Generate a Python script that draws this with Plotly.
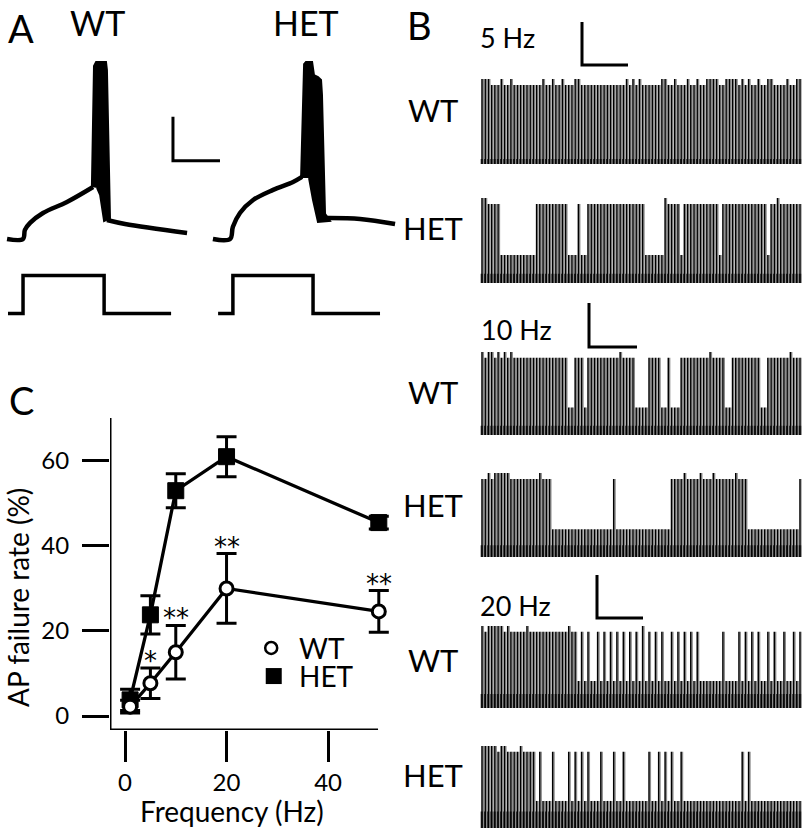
import plotly.graph_objects as go

W, H = 804, 832
FONT = "Lato, 'Open Sans', sans-serif"

# ---------------- Panel C data: AP failure rate (%) ----------------
freq_wt = [1, 5, 10, 20, 50]
fail_wt = [2.2, 7.7, 15.0, 30.0, 24.6]
err_wt = [1.5, 3.6, 6.3, 8.2, 4.9]
freq_het = [1, 5, 10, 20, 50]
fail_het = [3.8, 23.8, 53.0, 61.0, 45.5]
err_het = [2.5, 4.5, 4.0, 4.7, 1.5]
sig_freq = [5, 10, 20, 50]
sig_label = ["*", "**", "**", "**"]
c_xticks = [0, 20, 40]
c_yticks = [0, 20, 40, 60]

# ---------------- Panel A data: overlaid APs (ms, mV) ----------------
wt_pre_t = [0.30, 0.98, 1.06, 1.28, 1.83, 2.85, 3.96]
wt_pre_v = [-70, -70, -65.9, -62.7, -58.2, -53.2, -46.4]
wt_spike_t = [3.91, 4.00, 4.09, 4.51, 4.55, 4.68, 4.43, 4.26, 4.13]
wt_spike_v = [-46.4, 8.6, 10.5, 10.5, 6.8, -60.5, -61.8, -50.0, -46.8]
wt_post_t = [4.55, 5.32, 7.96]
wt_post_v = [-61.4, -63.2, -67.3]
het_pre_t = [9.06, 9.79, 9.91, 10.21, 10.77, 11.62, 12.47, 12.85]
het_pre_v = [-70, -70, -64.5, -58.2, -52.3, -47.7, -44.1, -41.8]
het_spike_t = [12.81, 12.94, 13.02, 13.28, 13.36, 13.53, 13.66, 13.70, 13.83, 14.04, 13.53, 13.32, 13.15]
het_spike_v = [-42.3, 9.5, 10.5, 10.5, 4.5, 3.6, 2.3, -4.5, -58.6, -61.8, -62.3, -52.3, -42.3]
het_post_t = [13.87, 15.32, 16.81]
het_post_v = [-60.5, -60.9, -63.2]
# current step command (0 = off, 1 = on)
wt_step_t = [0.34, 0.98, 0.98, 4.43, 4.43, 7.28]
het_step_t = [9.28, 9.91, 9.91, 13.32, 13.32, 16.17]
step_i = [0, 0, 1, 1, 0, 0]
scale_a_ms = 2
scale_a_mv = 20

# ---------------- Panel B data: response to each stimulus ----------------
# '2' = tall spike, '1' = spike, '0' = failure
wt_5hz = ("2221112112" "1111111112" "1121121112" "2111111111" "1111121212"
          "1111112211" "2111211211" "2222112222" "1212112112" "2111121122")
het_5hz = ("2211110000" "0000000111" "1111111000" "1001111111" "1111111111"
           "1000000211" "1101111111" "1111011111" "1111111110" "1121111111")
wt_10hz = ("2122121212" "1111111111" "1111111001" "1101111111" "1112111100"
           "0011110010" "0011111111" "1211110011" "1111111001" "1111112111")
het_10hz = ("1121222221" "1111111121" "1100000000" "0000000000" "0100000000"
            "0000000001" "1112111121" "1121111112" "1110000000" "0000000001")
wt_20hz = ("2122222121" "1111211111" "1111111211" "0101001010" "1010101010"
           "2010101001" "0101010100" "0000010000" "1010101001" "0100100101")
het_20hz = ("2222212211" "1121111010" "0010000101" "0101000100" "0100100000"
            "0010010101" "0010000000" "0000000000" "0101000000" "0000000000")
level = {"2": 1.0, "1": 0.93, "0": 0.33}

# ---------------- layout helpers (pixel geometry) ----------------
def dx(x0, x1):
    return [x0 / W, x1 / W]

def dy(y0, y1):
    return [1 - y1 / H, 1 - y0 / H]

fig = go.Figure()
hidden = dict(visible=False, showgrid=False, zeroline=False, fixedrange=True)
layout_axes = {}
shapes = []

# ---------- Panel C ----------
C_X0, C_X1, C_Y0, C_Y1 = 110, 392, 418, 730
C_XMIN, C_XMAX, C_XLINE_END = -2.96, 52.6, 49.85
C_YMIN, C_YMAX = -3.29, 70.1
axis_common = dict(showline=False, ticks="outside", tickwidth=3, tickcolor="black",
                   showgrid=False, zeroline=False,
                   tickfont=dict(family=FONT, size=24, color="black"))
layout_axes["xaxis"] = dict(axis_common, domain=dx(C_X0, C_X1), range=[C_XMIN, C_XMAX],
                            tickvals=c_xticks, ticklen=31, anchor="y", ticklabelstandoff=0)
layout_axes["yaxis"] = dict(axis_common, domain=dy(C_Y0, C_Y1), range=[C_YMIN, C_YMAX],
                            tickvals=c_yticks, ticklen=27, anchor="x", ticklabelstandoff=8)
shapes.append(dict(type="line", xref="x", yref="y", x0=C_XMIN, x1=C_XLINE_END,
                   y0=C_YMIN, y1=C_YMIN, line=dict(color="black", width=3)))
shapes.append(dict(type="line", xref="x", yref="y", x0=C_XMIN, x1=C_XMIN,
                   y0=C_YMIN, y1=C_YMAX, line=dict(color="black", width=3)))

fig.add_trace(go.Scatter(x=freq_het, y=fail_het, mode="lines+markers",
                         line=dict(color="black", width=3.3),
                         marker=dict(symbol="square", size=16, color="black",
                                     line=dict(color="black", width=1)),
                         error_y=dict(type="data", array=err_het, color="black",
                                      thickness=3, width=10),
                         cliponaxis=False, showlegend=False))
fig.add_trace(go.Scatter(x=freq_wt, y=fail_wt, mode="lines+markers",
                         line=dict(color="black", width=3.3),
                         marker=dict(symbol="circle", size=13, color="white",
                                     line=dict(color="black", width=3)),
                         error_y=dict(type="data", array=err_wt, color="black",
                                      thickness=3, width=10),
                         cliponaxis=False, showlegend=False))
# legend samples (positions in data space of panel C)
LEG_X, LEG_Y_WT, LEG_Y_HET = 28.8, 16.0, 9.4
fig.add_trace(go.Scatter(x=[LEG_X], y=[LEG_Y_WT], mode="markers",
                         marker=dict(symbol="circle", size=12, color="white",
                                     line=dict(color="black", width=2.5)),
                         showlegend=False, cliponaxis=False))
fig.add_trace(go.Scatter(x=[LEG_X + 0.5], y=[LEG_Y_HET], mode="markers",
                         marker=dict(symbol="square", size=16, color="black"),
                         showlegend=False, cliponaxis=False))

annotations = []
for f, lab in zip(sig_freq, sig_label):
    i = freq_wt.index(f)
    annotations.append(dict(x=f, y=fail_wt[i] + err_wt[i], xref="x", yref="y", text=lab,
                            showarrow=False, xanchor="center", yanchor="bottom", yshift=-10,
                            font=dict(family="DejaVu Sans", size=26, color="black")))
annotations.append(dict(x=LEG_X + 5, y=LEG_Y_WT, xref="x", yref="y", text="WT",
                        showarrow=False, xanchor="left", yanchor="middle",
                        font=dict(family=FONT, size=28, color="black")))
annotations.append(dict(x=LEG_X + 5, y=LEG_Y_HET, xref="x", yref="y", text="HET",
                        showarrow=False, xanchor="left", yanchor="middle",
                        font=dict(family=FONT, size=28, color="black")))

# ---------- Panel A ----------
layout_axes["xaxis2"] = dict(hidden, domain=dx(0, 400), range=[0, 17.02], anchor="y2")
layout_axes["yaxis2"] = dict(hidden, domain=dy(50, 330), range=[-111.4, 15.9], anchor="x2")
layout_axes["yaxis3"] = dict(hidden, domain=dy(268, 321), range=[-0.2, 1.2], anchor="x2")

for t, v in [(wt_pre_t, wt_pre_v), (wt_post_t, wt_post_v),
             (het_pre_t, het_pre_v), (het_post_t, het_post_v)]:
    fig.add_trace(go.Scatter(x=t, y=v, xaxis="x2", yaxis="y2", mode="lines",
                             line=dict(color="black", width=4.5, shape="spline"),
                             showlegend=False, hoverinfo="skip"))
for t, v in [(wt_spike_t, wt_spike_v), (het_spike_t, het_spike_v)]:
    fig.add_trace(go.Scatter(x=t, y=v, xaxis="x2", yaxis="y2", mode="lines",
                             fill="toself", fillcolor="black",
                             line=dict(color="black", width=2),
                             showlegend=False, hoverinfo="skip"))
for t in [wt_step_t, het_step_t]:
    fig.add_trace(go.Scatter(x=t, y=step_i, xaxis="x2", yaxis="y3", mode="lines",
                             line=dict(color="black", width=3.5),
                             showlegend=False, hoverinfo="skip"))
# scale bar (2 ms, 20 mV)
SB_T0, SB_V0 = 7.36, -34.5
fig.add_trace(go.Scatter(x=[SB_T0, SB_T0, SB_T0 + scale_a_ms],
                         y=[SB_V0 + scale_a_mv, SB_V0, SB_V0],
                         xaxis="x2", yaxis="y2", mode="lines",
                         line=dict(color="black", width=3),
                         showlegend=False, hoverinfo="skip"))

# ---------- Panel B ----------
B_X0, B_X1 = 480.4, 801.6
b_rows = [  # pattern, top px, baseline px, dark band height (fraction)
    (wt_5hz, 79, 164, 0.06),
    (het_5hz, 198, 283, 0.11),
    (wt_10hz, 352, 435, 0.11),
    (het_10hz, 473, 557, 0.14),
    (wt_20hz, 626, 708, 0.17),
    (het_20hz, 746, 828, 0.2),
]
for i, (pat, top, base, band) in enumerate(b_rows):
    ax = i + 4
    n = len(pat)
    layout_axes[f"xaxis{ax}"] = dict(hidden, domain=dx(B_X0, B_X1), range=[-0.5, n - 0.5],
                                     anchor=f"y{ax}")
    layout_axes[f"yaxis{ax}"] = dict(hidden, domain=dy(top, base), range=[0, 1],
                                     anchor=f"x{ax}")
    fig.add_trace(go.Scatter(x=[-0.5, n - 0.5, n - 0.5, -0.5], y=[0, 0, band, band],
                             xaxis=f"x{ax}", yaxis=f"y{ax}", mode="lines", fill="toself",
                             fillcolor="#3a3a3a", line=dict(width=0),
                             showlegend=False, hoverinfo="skip"))
    for off, col, wd in [(0.42, "#8a8a8a", 1.4), (0.0, "black", 1.5)]:
        xs, ys = [], []
        for k, c in enumerate(pat):
            xs += [k + off, k + off, None]
            ys += [0, level[c], None]
        fig.add_trace(go.Scatter(x=xs, y=ys, xaxis=f"x{ax}", yaxis=f"y{ax}", mode="lines",
                                 line=dict(color=col, width=wd), connectgaps=False,
                                 showlegend=False, hoverinfo="skip"))

# scale bars in panel B (decorations)
for xv, y0, y1, x1 in [(582, 22, 65, 628), (589, 303, 347, 637), (597, 575, 618, 643)]:
    shapes.append(dict(type="path", xref="paper", yref="paper",
                       path=f"M {xv / W} {1 - y0 / H} L {xv / W} {1 - y1 / H} L {x1 / W} {1 - y1 / H}",
                       line=dict(color="black", width=3)))

# ---------- text labels ----------
def label(text, x, y, size, anchor="center"):
    annotations.append(dict(x=x / W, y=1 - y / H, xref="paper", yref="paper", text=text,
                            showarrow=False, xanchor=anchor, yanchor="middle",
                            font=dict(family=FONT, size=size, color="black")))

label("A", 21, 28, 38)
label("B", 420, 25, 38)
label("C", 21, 400, 38)
label("WT", 97, 23, 34)
label("HET", 306, 23, 34)
label("5 Hz", 507, 38, 27)
label("10 Hz", 516, 329, 27)
label("20 Hz", 515, 605, 27)
for txt, y in [("WT", 110), ("HET", 228), ("WT", 392), ("HET", 505), ("WT", 660), ("HET", 775)]:
    label(txt, 433, y, 31)
label("Frequency (Hz)", 232, 811, 28)
annotations.append(dict(x=18 / W, y=1 - 598 / H, xref="paper", yref="paper",
                        text="AP failure rate (%)", showarrow=False, textangle=-90,
                        xanchor="center", yanchor="middle",
                        font=dict(family=FONT, size=28, color="black")))

fig.update_layout(width=W, height=H, margin=dict(l=0, r=0, t=0, b=0),
                  paper_bgcolor="white", plot_bgcolor="rgba(0,0,0,0)",
                  showlegend=False, annotations=annotations, shapes=shapes,
                  font=dict(family=FONT, color="black"), **layout_axes)
fig.write_html("out.html", config={"displayModeBar": False, "staticPlot": True},
               post_script="document.body.style.margin='0px';")
